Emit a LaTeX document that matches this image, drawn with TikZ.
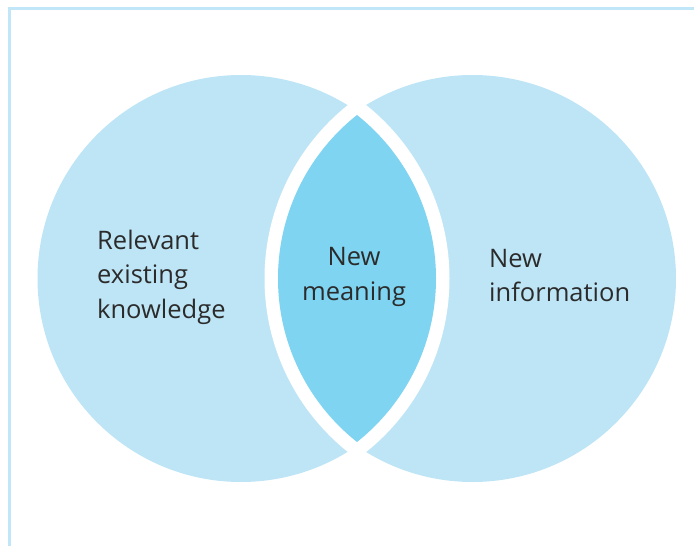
\documentclass[tikz,border=0pt]{standalone}
\usepackage{fontspec}
\setmainfont{Open Sans}
\definecolor{circlefill}{RGB}{190,229,246}
\definecolor{lensfill}{RGB}{126,212,241}
\definecolor{framecol}{RGB}{192,230,247}
\definecolor{labeltext}{RGB}{43,43,43}
\begin{document}
\begin{tikzpicture}[x=1pt,y=-1pt,
  setcircle/.style={circle,inner sep=0pt,minimum size=407pt,fill=circlefill},
  label/.style={text=labeltext,font=\fontsize{25.5}{34.5}\selectfont,inner sep=0pt}]
  \useasboundingbox (0,0) rectangle (694,546);
  % frame along the top and left edges
  \draw[framecol,line width=3pt] (9.5,546) -- (9.5,8) -- (694,8);
  % the two sets
  \node[setcircle] (left) at (241,278.5) {};
  \node[setcircle] (right) at (472.5,278.5) {};
  % white gap around the overlap
  \begin{scope}
    \clip (227.3,278.5) circle (222.2);
    \fill[white] (486.7,278.5) circle (222.2);
  \end{scope}
  % overlap
  \begin{scope}
    \clip (227.3,278.5) circle (208.7);
    \fill[lensfill] (486.7,278.5) circle (208.7);
  \end{scope}
  % labels (anchored at the baseline of their last line)
  \node[label,anchor=base west,align=left] (known) at (97,318.3) {Relevant\\existing\\knowledge};
  \node[label,anchor=base,align=center] (meaning) at (354,300) {New\\meaning};
  \node[label,anchor=base west,align=left] (info) at (489,301.7) {New\\information};
\end{tikzpicture}
\end{document}
